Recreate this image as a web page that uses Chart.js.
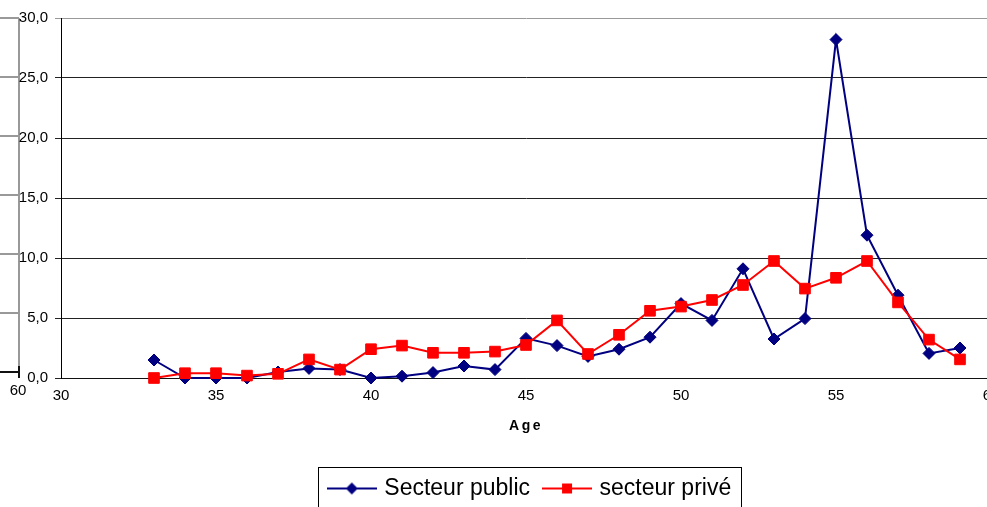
<!DOCTYPE html>
<html>
<head>
<meta charset="utf-8">
<script src="https://cdn.jsdelivr.net/npm/chart.js@4/dist/chart.umd.min.js"></script>
<style>
html, body { margin: 0; padding: 0; overflow: hidden; background: #fff; }
canvas { display: block; }
</style>
</head>
<body>
<canvas id="myChart" width="1010" height="510"></canvas>
<script>
var ages = [33, 34, 35, 36, 37, 38, 39, 40, 41, 42, 43, 44, 45, 46, 47, 48, 49, 50, 51, 52, 53, 54, 55, 56, 57, 58, 59];
var secteurPublic = [1.5, 0.0, 0.0, 0.0, 0.5, 0.8, 0.7, 0.0, 0.15, 0.45, 1.0, 0.7, 3.3, 2.7, 1.8, 2.4, 3.4, 6.2, 4.8, 9.1, 3.25, 4.95, 28.2, 11.9, 6.9, 2.05, 2.5];
var secteurPrive = [0.0, 0.4, 0.4, 0.2, 0.35, 1.55, 0.7, 2.4, 2.7, 2.1, 2.1, 2.2, 2.75, 4.8, 2.0, 3.6, 5.6, 5.95, 6.5, 7.75, 9.75, 7.45, 8.35, 9.75, 6.3, 3.2, 1.55];
var seriesNames = ['Secteur public', 'secteur privé'];
var xMin = 30, xMax = 60, xStep = 5;
var yMin = 0, yMax = 30, yStep = 5;

var FONT = "'Liberation Sans', Arial, sans-serif";
Chart.defaults.font.family = FONT;
Chart.defaults.color = '#000';

var ctx = document.getElementById('myChart').getContext('2d');

function points(vals) {
  return ages.map(function(a, i) { return {x: a, y: vals[i]}; });
}

// small line+marker picture used as the legend symbol
function legendMarker(color, shape) {
  var c = document.createElement('canvas');
  c.width = 50; c.height = 16;
  var g = c.getContext('2d');
  g.strokeStyle = color;
  g.lineWidth = 2;
  g.beginPath(); g.moveTo(0, 8); g.lineTo(50, 8); g.stroke();
  g.fillStyle = color;
  g.beginPath();
  if (shape === 'diamond') {
    g.moveTo(19, 8); g.lineTo(25, 2); g.lineTo(31, 8); g.lineTo(25, 14);
  } else {
    g.rect(20, 3, 10, 10);
  }
  g.closePath(); g.fill();
  return c;
}

var leftRemnant = {
  id: 'leftRemnant',
  beforeDraw: function(chart) {
    var c = chart.ctx;
    c.save();
    c.strokeStyle = '#999';
    c.lineWidth = 2;
    c.beginPath();
    c.moveTo(19, 18); c.lineTo(19, 372);
    for (var i = 0; i < 6; i++) {
      c.moveTo(0, 18 + i * 59); c.lineTo(19, 18 + i * 59);
    }
    c.stroke();
    c.strokeStyle = '#111';
    c.beginPath(); c.moveTo(0, 372); c.lineTo(20, 372); c.moveTo(19, 366); c.lineTo(19, 378); c.stroke();
    c.fillStyle = '#000';
    c.font = '15px ' + FONT;
    c.textAlign = 'center';
    c.textBaseline = 'middle';
    c.fillText('60', 18, 391);
    c.restore();
  }
};

var spacedTitle = {
  id: 'spacedTitle',
  beforeDraw: function(chart) {
    var xs = chart.scales.x;
    if (!xs._spaced) {
      var orig = xs.drawTitle;
      xs.drawTitle = function() {
        chart.ctx.save();
        chart.ctx.letterSpacing = '2.5px';
        orig.apply(xs, arguments);
        chart.ctx.restore();
      };
      xs._spaced = true;
    }
  }
};

// legend sits a little right of the plot centre in the original
var legendShift = {
  id: 'legendShift',
  afterLayout: function(chart) {
    chart.legend.left += 5;
    chart.legend.right += 5;
  }
};

var legendFrame = {
  id: 'legendFrame',
  afterDraw: function(chart) {
    var lg = chart.legend;
    var p = lg.options.labels.padding;
    var w = lg.lineWidths[0];
    var x0 = (lg.left + p + lg.right - w) / 2;
    var c = chart.ctx;
    c.save();
    c.strokeStyle = '#000';
    c.lineWidth = 1;
    c.strokeRect(Math.round(x0 - 13) + 0.5, Math.round(lg.top + 6) + 0.5, Math.round(w - p + 23), 80);
    c.restore();
  }
};

var config = {
  type: 'line',
  data: {
    datasets: [{
      label: seriesNames[0],
      data: points(secteurPublic),
      borderColor: '#000080',
      backgroundColor: '#000080',
      borderWidth: 2,
      pointStyle: 'rectRot',
      pointRadius: 6,
      pointBorderWidth: 1,
      tension: 0,
      clip: false,
      order: 1
    }, {
      label: seriesNames[1],
      data: points(secteurPrive),
      borderColor: '#ff0000',
      backgroundColor: '#ff0000',
      borderWidth: 2,
      pointStyle: 'rect',
      pointRadius: 7.5,
      pointBorderWidth: 1,
      tension: 0,
      clip: false,
      order: 0
    }]
  },
  options: {
    responsive: false,
    animation: false,
    layout: { padding: { left: 0, right: 19, top: 18, bottom: 0 } },
    plugins: {
      tooltip: { enabled: false },
      legend: {
        position: 'bottom',
        fullSize: false,
        labels: {
          usePointStyle: true,
          pointStyleWidth: 42,
          padding: 16,
          color: '#000',
          font: { size: 23 },
          generateLabels: function(chart) {
            return [
              { text: seriesNames[0], pointStyle: legendMarker('#000080', 'diamond'), datasetIndex: 0, lineWidth: 0, hidden: false },
              { text: seriesNames[1], pointStyle: legendMarker('#ff0000', 'square'), datasetIndex: 1, lineWidth: 0, hidden: false }
            ];
          }
        }
      }
    },
    scales: {
      x: {
        type: 'linear',
        min: xMin,
        max: xMax,
        ticks: { stepSize: xStep, padding: 9, font: { size: 15 }, color: '#000' },
        grid: { display: false, drawTicks: false },
        border: { color: '#111', width: 1 },
        title: { display: true, text: 'Age', font: { size: 14, weight: 'bold' }, padding: { top: 0, bottom: 26 } },
        afterFit: function(s) { s.height = 83; }
      },
      y: {
        min: yMin,
        max: yMax,
        ticks: {
          stepSize: yStep,
          padding: 7,
          font: { size: 15 },
          color: '#000',
          callback: function(v) { return v.toFixed(1).replace('.', ','); }
        },
        grid: {
          tickLength: 6,
          color: function(c) { return c.tick && c.tick.value === yMax ? '#999' : '#222'; }
        },
        border: { color: '#000', width: 1 },
        afterFit: function(s) { s.width = 61; }
      }
    }
  },
  plugins: [leftRemnant, spacedTitle, legendShift, legendFrame]
};

var chart = new Chart(ctx, config);
</script>
</body>
</html>
